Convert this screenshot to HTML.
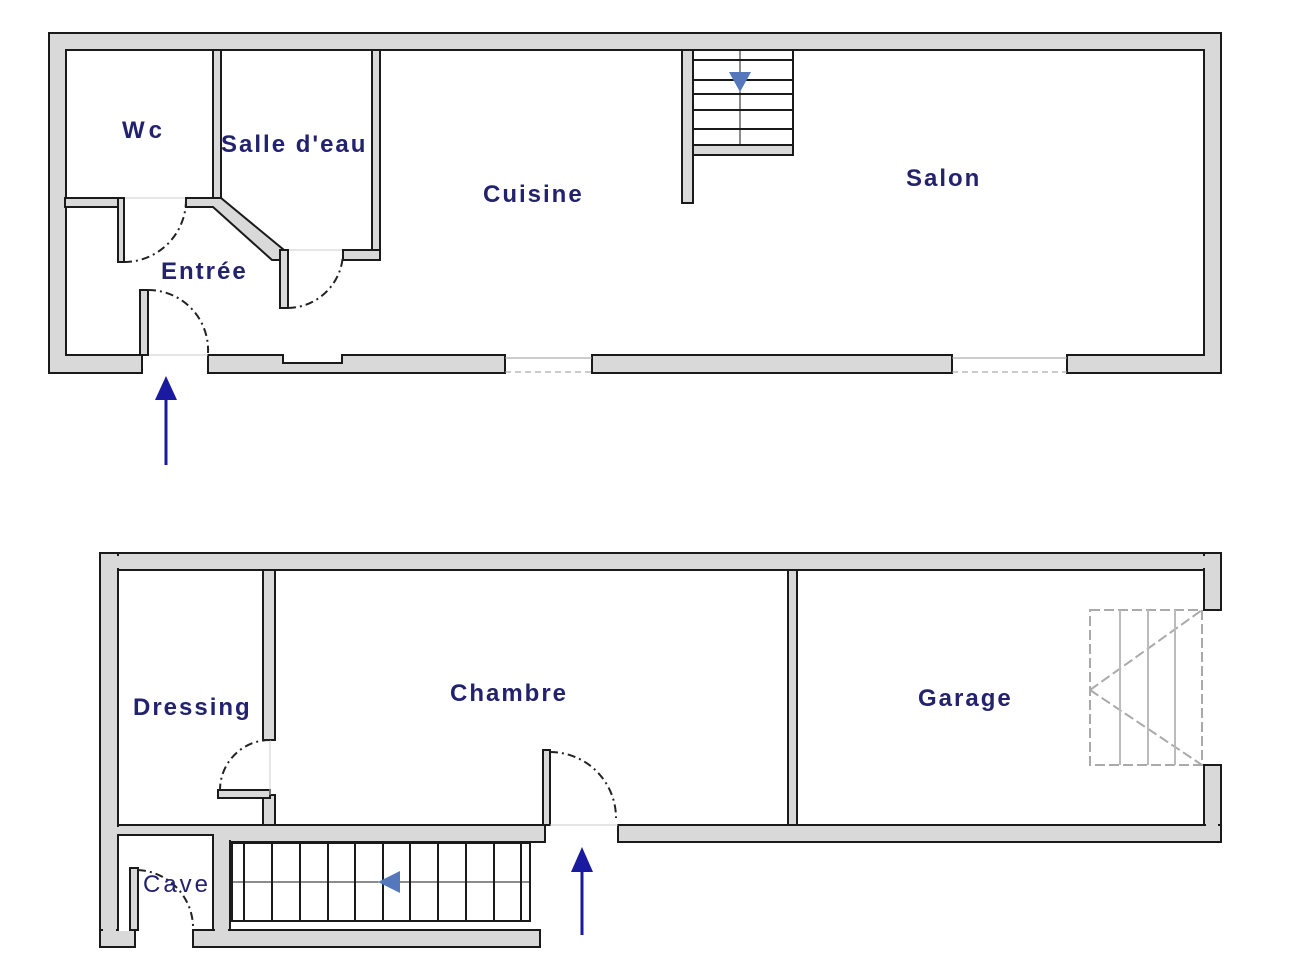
<!DOCTYPE html>
<html><head><style>
body{margin:0;background:#fff;width:1300px;height:975px;overflow:hidden}
svg{display:block}
text{font-family:"Liberation Sans",sans-serif;font-weight:bold;fill:#22226e;font-size:24px;letter-spacing:2px}
</style></head><body>
<svg width="1300" height="975" viewBox="0 0 1300 975">
<g fill="#d9d9d9" stroke="#1a1a1a" stroke-width="2">
<rect x="49" y="33" width="1172" height="340"/>
</g>
<rect x="66" y="50" width="1138" height="305" fill="#fff" stroke="#1a1a1a" stroke-width="2"/>
<!-- openings in bottom wall -->
<rect x="143" y="354" width="64" height="20" fill="#fff"/>
<rect x="506" y="354" width="85" height="20" fill="#fff"/>
<rect x="953" y="354" width="113" height="20" fill="#fff"/>
<g stroke="#1a1a1a" stroke-width="2">
<line x1="142" y1="355" x2="142" y2="373"/><line x1="208" y1="355" x2="208" y2="373"/>
<line x1="505" y1="355" x2="505" y2="373"/><line x1="592" y1="355" x2="592" y2="373"/>
<line x1="952" y1="355" x2="952" y2="373"/><line x1="1067" y1="355" x2="1067" y2="373"/>
</g>
<!-- window recess -->
<rect x="283" y="355" width="59" height="8" fill="#fff" stroke="#1a1a1a" stroke-width="2"/>
<rect x="284" y="354" width="57" height="3" fill="#fff"/>
<!-- windows -->
<g stroke="#999" stroke-width="1" fill="none">
<line x1="505" y1="358" x2="592" y2="358"/><line x1="505" y1="372" x2="592" y2="372" stroke-dasharray="6 4"/>
<line x1="952" y1="358" x2="1067" y2="358"/><line x1="952" y1="372" x2="1067" y2="372" stroke-dasharray="6 4"/>
<line x1="142" y1="355" x2="208" y2="355" stroke="#ccc"/>
<line x1="124" y1="198" x2="186" y2="198" stroke="#ccc"/>
<line x1="288" y1="250" x2="343" y2="250" stroke="#ccc"/>
</g>
<!-- top interior walls -->
<g fill="#d9d9d9" stroke="#1a1a1a" stroke-width="2">
<rect x="213" y="50" width="8" height="148"/>
<rect x="65" y="198" width="59" height="9"/>
<rect x="118" y="198" width="6" height="64"/>
<polygon points="186,198 221,198 284,250 284,260 272,260 213,207 186,207"/>
<rect x="280" y="250" width="8" height="58"/>
<rect x="372" y="50" width="8" height="210"/>
<rect x="343" y="250" width="37" height="10"/>
<rect x="140" y="290" width="8" height="65"/>
<rect x="682" y="50" width="11" height="153"/>
<rect x="693" y="145" width="100" height="10"/>
</g>
<!-- stair top -->
<g stroke="#1a1a1a" stroke-width="2" fill="none">
<rect x="693" y="50" width="100" height="95"/>
<line x1="693" y1="60" x2="793" y2="60"/><line x1="693" y1="80" x2="793" y2="80"/>
<line x1="693" y1="94" x2="793" y2="94"/><line x1="693" y1="110" x2="793" y2="110"/>
<line x1="693" y1="129" x2="793" y2="129"/>
<line x1="740" y1="50" x2="740" y2="145" stroke-width="1"/>
</g>
<polygon points="729,72 751,72 740,92" fill="#5577bb"/>
<g stroke="#222" stroke-width="2" fill="none" stroke-dasharray="8 4 2 4">
<path d="M124,262 A62,62 0 0 0 186,200"/>
<path d="M148,290 A60,60 0 0 1 208,353"/>
<path d="M288,308 A56,56 0 0 0 343,252"/>
</g>
<line x1="166" y1="465" x2="166" y2="395" stroke="#1a1aa0" stroke-width="3"/>
<polygon points="155,400 177,400 166,376" fill="#1a1aa0"/>
<text x="122" y="138" style="letter-spacing:4px">Wc</text>
<text x="221" y="152">Salle d'eau</text>
<text x="483" y="202">Cuisine</text>
<text x="906" y="186">Salon</text>
<text x="161" y="279">Entrée</text>

<!-- BOTTOM FLOOR -->
<g fill="#d9d9d9" stroke="#1a1a1a" stroke-width="2">
<rect x="100" y="553" width="1121" height="17"/>
<rect x="1204" y="553" width="17" height="57"/>
<rect x="1204" y="765" width="17" height="77"/>
<rect x="618" y="825" width="603" height="17"/>
<rect x="100" y="553" width="18" height="394"/>
<rect x="118" y="825" width="427" height="17"/>
<rect x="543" y="750" width="7" height="75"/>
<rect x="788" y="570" width="9" height="255"/>
<rect x="263" y="570" width="12" height="170"/>
<rect x="263" y="795" width="12" height="30"/>
<rect x="218" y="790" width="52" height="8"/>
<rect x="213" y="835" width="17" height="95"/>
<rect x="100" y="930" width="35" height="17"/>
<rect x="193" y="930" width="347" height="17"/>
</g>
<rect x="103" y="556" width="1115" height="12" fill="#d9d9d9"/>
<rect x="1206" y="556" width="12" height="52" fill="#d9d9d9"/>
<rect x="1206" y="767" width="12" height="72" fill="#d9d9d9"/>
<rect x="103" y="556" width="13" height="389" fill="#d9d9d9"/>
<rect x="103" y="827" width="440" height="13" fill="#d9d9d9"/>
<rect x="103" y="932" width="30" height="13" fill="#d9d9d9"/>
<rect x="215" y="838" width="13" height="105" fill="#d9d9d9"/>
<rect x="620" y="827" width="598" height="13" fill="#d9d9d9"/>
<rect x="118" y="835" width="95" height="95" fill="#fff" stroke="#1a1a1a" stroke-width="2"/>
<rect x="119" y="925" width="11" height="6" fill="#fff"/>
<rect x="139" y="925" width="53" height="7" fill="#fff"/>
<rect x="130" y="868" width="8" height="62" fill="#d9d9d9" stroke="#1a1a1a" stroke-width="2"/>
<g stroke="#1a1a1a" stroke-width="2" fill="none">
<rect x="232" y="843" width="298" height="78"/>
<line x1="244" y1="843" x2="244" y2="921"/><line x1="272" y1="843" x2="272" y2="921"/>
<line x1="300" y1="843" x2="300" y2="921"/><line x1="328" y1="843" x2="328" y2="921"/>
<line x1="355" y1="843" x2="355" y2="921"/><line x1="383" y1="843" x2="383" y2="921"/>
<line x1="410" y1="843" x2="410" y2="921"/><line x1="438" y1="843" x2="438" y2="921"/>
<line x1="466" y1="843" x2="466" y2="921"/><line x1="494" y1="843" x2="494" y2="921"/>
<line x1="521" y1="843" x2="521" y2="921"/>
<line x1="232" y1="882" x2="530" y2="882" stroke-width="1"/>
</g>
<polygon points="378,882 400,871 400,893" fill="#5577bb"/>
<g stroke="#aaa" stroke-width="2" fill="none" stroke-dasharray="10 4">
<rect x="1090" y="610" width="112" height="155"/>
<line x1="1090" y1="690" x2="1202" y2="610"/>
<line x1="1090" y1="690" x2="1202" y2="765"/>
</g>
<g stroke="#bbb" stroke-width="2">
<line x1="1120" y1="610" x2="1120" y2="765"/><line x1="1148" y1="610" x2="1148" y2="765"/><line x1="1175" y1="610" x2="1175" y2="765"/>
</g>
<g stroke="#ccc" stroke-width="1">
<line x1="550" y1="825" x2="618" y2="825"/>
<line x1="270" y1="740" x2="270" y2="795"/>
</g>
<g stroke="#222" stroke-width="2" fill="none" stroke-dasharray="8 4 2 4">
<path d="M550,752 A66,66 0 0 1 616,818"/>
<path d="M270,740 A50,50 0 0 0 220,790"/>
<path d="M138,870 A58,58 0 0 1 193,930"/>
</g>
<line x1="582" y1="935" x2="582" y2="870" stroke="#1a1aa0" stroke-width="3"/>
<polygon points="571,872 593,872 582,847" fill="#1a1aa0"/>
<text x="133" y="715">Dressing</text>
<text x="450" y="701">Chambre</text>
<text x="918" y="706">Garage</text>
<text x="143" y="892" style="font-weight:normal;letter-spacing:3px">Cave</text>
</svg>
</body></html>
